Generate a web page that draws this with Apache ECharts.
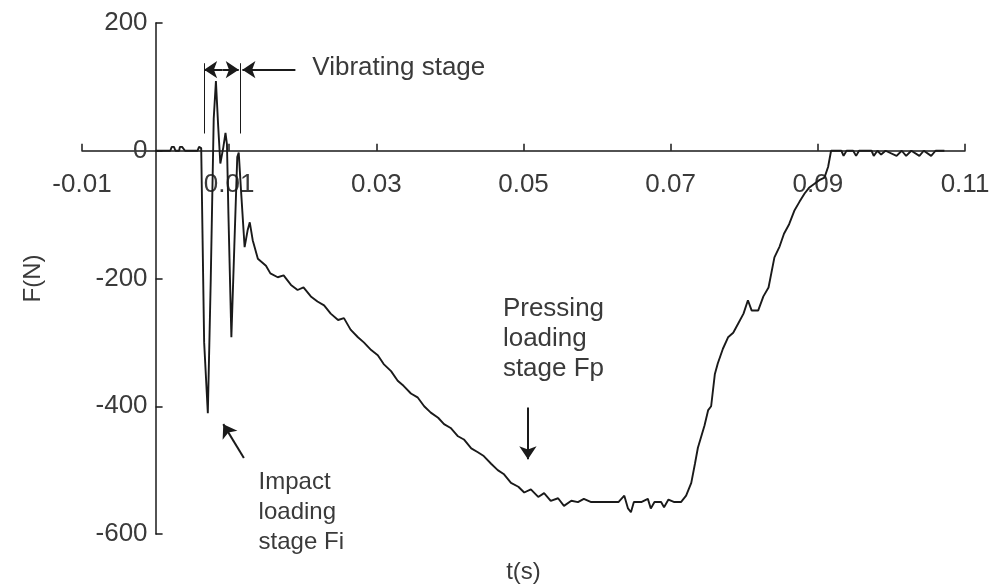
<!DOCTYPE html>
<html>
<head>
<meta charset="utf-8">
<script src="https://cdn.jsdelivr.net/npm/echarts@6/dist/echarts.min.js"></script>
<style>
  html, body { margin: 0; padding: 0; background: #fff; }
  #chart { width: 993px; height: 587px; }
</style>
</head>
<body>
<div id="chart"></div>
<script>
// time (s) and force (N)
var times = [
  0.0000, 0.0020, 0.0022, 0.0025, 0.0027, 0.0032, 0.0033, 0.0036, 0.0038, 0.0040,
  0.0057, 0.0059, 0.0062, 0.0066, 0.0071, 0.0075, 0.0079, 0.0082, 0.0085, 0.0088,
  0.0092, 0.0095, 0.0097, 0.0099, 0.0103, 0.0107, 0.0111, 0.0113, 0.0116, 0.0121,
  0.0125, 0.0128, 0.0132, 0.0139, 0.0150, 0.0156, 0.0166, 0.0174, 0.0184, 0.0193,
  0.0201, 0.0211, 0.0220, 0.0229, 0.0238, 0.0248, 0.0256, 0.0265, 0.0275, 0.0283,
  0.0293, 0.0302, 0.0310, 0.0320, 0.0329, 0.0337, 0.0347, 0.0356, 0.0365, 0.0374,
  0.0384, 0.0392, 0.0401, 0.0411, 0.0419, 0.0429, 0.0438, 0.0446, 0.0456, 0.0465,
  0.0473, 0.0483, 0.0493, 0.0501, 0.0510, 0.0520, 0.0528, 0.0537, 0.0547, 0.0555,
  0.0565, 0.0574, 0.0582, 0.0592, 0.0601, 0.0610, 0.0619, 0.0629, 0.0637, 0.0642,
  0.0646, 0.0650, 0.0660, 0.0669, 0.0673, 0.0678, 0.0687, 0.0691, 0.0697, 0.0705,
  0.0714, 0.0721, 0.0728, 0.0733, 0.0737, 0.0746, 0.0751, 0.0755, 0.0760, 0.0764,
  0.0771, 0.0778, 0.0785, 0.0792, 0.0799, 0.0805, 0.0810, 0.0819, 0.0826, 0.0833,
  0.0841, 0.0848, 0.0854, 0.0861, 0.0868, 0.0875, 0.0882, 0.0888, 0.0895, 0.0902,
  0.0909, 0.0914, 0.0918, 0.0932, 0.0935, 0.0939, 0.0948, 0.0952, 0.0956, 0.0973,
  0.0976, 0.0981, 0.0986, 0.0992, 0.1007, 0.1014, 0.1020, 0.1027, 0.1038, 0.1044,
  0.1054, 0.1060, 0.1072
];
var forces = [
  0, 0, 6, 6, 0, 0, 6, 6, 6, 0,
  0, 6, 4, -300, -411, -200, 50, 109, 40, -20,
  5, 28, 10, -100, -292, -150, -10, -3, -60, -151,
  -125, -112, -140, -169, -180, -192, -198, -195, -210, -218,
  -214, -228, -236, -242, -255, -265, -262, -280, -292, -300,
  -312, -320, -334, -345, -360, -368, -380, -386, -400, -410,
  -418, -428, -434, -447, -452, -466, -472, -478, -490, -500,
  -506, -520, -526, -535, -530, -542, -536, -548, -544, -556,
  -548, -550, -545, -550, -550, -550, -550, -550, -540, -560,
  -566, -550, -550, -545, -560, -550, -550, -558, -546, -550,
  -550, -540, -520, -490, -465, -430, -406, -400, -350, -333,
  -310, -292, -285, -270, -255, -234, -250, -250, -228, -214,
  -167, -150, -130, -115, -94, -80, -67, -58, -52, -46,
  -42, -25, 0, 0, -8, 0, 0, -8, 0, 0,
  -8, 0, -6, 0, -8, 0, -8, 0, -8, 0,
  -8, 0, 0
];
var xTicks = [-0.01, 0.01, 0.03, 0.05, 0.07, 0.09, 0.11];
var yTicks = [-600, -400, -200, 0, 200];

var chart = echarts.init(document.getElementById('chart'));

var seriesData = [];
for (var i = 0; i < times.length; i++) {
  seriesData.push([times[i], forces[i]]);
}

var ink = '#1a1a1a';
var txt = '#3a3a3a';
var font = 'Liberation Sans';

// grid box; axes are shifted so they cross at (0, 0) like the original figure
var gLeft = 82, gRight = 28, gTop = 23, gBottom = 53;
var W = 993, H = 587;
var xMin = xTicks[0], xMax = xTicks[xTicks.length - 1];
var yMin = yTicks[0], yMax = yTicks[yTicks.length - 1];
var zeroX = gLeft + (0 - xMin) / (xMax - xMin) * (W - gLeft - gRight);
var zeroY = gTop + (yMax - 0) / (yMax - yMin) * (H - gTop - gBottom);

function arrow(a, b) {
  return [{ coord: a, symbol: 'none' }, { coord: b, symbol: 'arrow' }];
}
function plain(a, b) {
  return [{ coord: a, symbol: 'none' }, { coord: b, symbol: 'none', lineStyle: { width: 1 } }];
}
function note(at, text, size) {
  return {
    coord: at,
    label: { show: true, position: 'right', distance: 0, formatter: text,
      fontSize: size, lineHeight: 30, color: txt, fontFamily: font, align: 'left' }
  };
}

var option = {
  animation: false,
  grid: { left: gLeft, right: gRight, top: gTop, bottom: gBottom, containLabel: false, outerBoundsMode: 'none' },
  xAxis: {
    type: 'value',
    position: 'bottom',
    offset: -((H - gBottom) - zeroY),
    min: xMin,
    max: xMax,
    interval: 0.02,
    name: 't(s)',
    nameLocation: 'middle',
    nameGap: 410,
    nameTextStyle: { fontSize: 24, color: txt, fontFamily: font },
    axisLine: { onZero: false, lineStyle: { color: ink, width: 1.5 } },
    axisTick: { inside: true, length: 7, lineStyle: { color: ink, width: 1.5 } },
    axisLabel: { margin: 21, fontSize: 26, color: txt, fontFamily: font,
      formatter: function (v) { return v.toFixed(2); } },
    splitLine: { show: false }
  },
  yAxis: {
    type: 'value',
    position: 'left',
    offset: -(zeroX - gLeft),
    min: yMin,
    max: yMax,
    interval: 200,
    name: 'F(N)',
    nameLocation: 'middle',
    nameGap: 110,
    nameRotate: 90,
    nameTextStyle: { fontSize: 24, color: txt, fontFamily: font },
    axisLine: { onZero: false, lineStyle: { color: ink, width: 1.5 } },
    axisTick: { show: true, inside: true, length: 7, lineStyle: { color: ink, width: 1.5 } },
    axisLabel: { margin: 8, fontSize: 26, color: txt, fontFamily: font },
    splitLine: { show: false }
  },
  series: [{
    type: 'line',
    data: seriesData,
    showSymbol: false,
    symbol: 'none',
    lineStyle: { color: ink, width: 1.9 },
    markLine: {
      silent: true,
      symbolSize: 13,
      label: { show: false },
      lineStyle: { color: ink, width: 2, type: 'solid' },
      data: [
        plain([0.0066, 137], [0.0066, 27]),
        plain([0.0115, 137], [0.0115, 27]),
        arrow([0.0091, 127], [0.0066, 127]),
        arrow([0.0091, 127], [0.0113, 127]),
        arrow([0.0190, 127], [0.0118, 127]),
        arrow([0.0120, -481], [0.0092, -428]),
        arrow([0.0506, -402], [0.0506, -483])
      ]
    },
    markPoint: {
      silent: true,
      symbol: 'circle',
      symbolSize: 0,
      itemStyle: { color: 'transparent' },
      data: [
        note([0.0213, 130], 'Vibrating stage', 26),
        note([0.0472, -294], 'Pressing\nloading\nstage Fp', 26),
        note([0.0140, -566], 'Impact\nloading\nstage Fi', 24)
      ]
    }
  }]
};

chart.setOption(option);
</script>
</body>
</html>
